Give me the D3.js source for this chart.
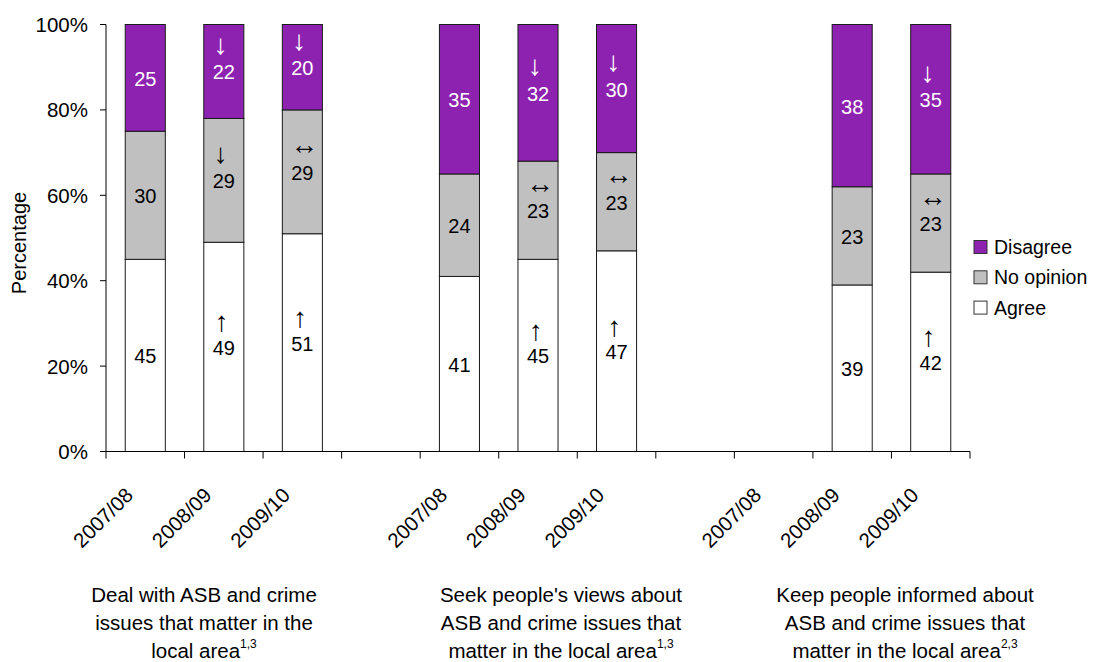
<!DOCTYPE html>
<html>
<head>
<meta charset="utf-8">
<script src="https://cdn.jsdelivr.net/npm/d3@7"></script>
<style>
  html, body { margin: 0; padding: 0; background: #ffffff; }
  svg { display: block; font-family: "Liberation Sans", Arial, sans-serif; }
</style>
</head>
<body>
<svg id="chart" width="1098" height="662"></svg>
<script>
// ---- Data -------------------------------------------------------------
const years = ["2007/08", "2008/09", "2009/10"];
const groupNames = ["deal", "seek", "inform"];

// One entry per year within each group (null = not asked that year)
const agree     = [45, 49, 51,   41, 45, 47,   null, 39, 42];
const noOpinion = [30, 29, 29,   24, 23, 23,   null, 23, 23];
const disagree  = [25, 22, 20,   35, 32, 30,   null, 38, 35];

// Change markers shown above each value
const agreeChange     = ["", "↑", "↑",   "", "↑", "↑",   "", "", "↑"];
const noOpinionChange = ["", "↓", "↔",   "", "↔", "↔",   "", "", "↔"];
const disagreeChange  = ["", "↓", "↓",   "", "↓", "↓",   "", "", "↓"];

const seriesNames = ["Agree", "No opinion", "Disagree"];
const yTicks = [0, 20, 40, 60, 80, 100];

// Group captions: lines of text plus a footnote marker on the last line
const groupCaptions = [
  ["Deal with ASB and crime", "issues that matter in the", "local area"],
  ["Seek people's views about", "ASB and crime issues that", "matter in the local area"],
  ["Keep people informed about", "ASB and crime issues that", "matter in the local area"]
];
const groupFootnotes = ["1,3", "1,3", "2,3"];

// ---- Layout -----------------------------------------------------------
const W = 1098, H = 662;
const plot = { left: 106, right: 970, top: 24.5, bottom: 451.5 };
const colors = { "Agree": "#ffffff", "No opinion": "#c0c0c0", "Disagree": "#8e22b0" };
const labelColors = { "Agree": "#000", "No opinion": "#000", "Disagree": "#fff" };
const font = "'Liberation Sans', Arial, sans-serif";
const arrowShift = { "↓": { dx: -3, dy: -27 }, "↑": { dx: -2, dy: -25 }, "↔": { dx: 2, dy: -27 } };
const captionX = [204, 561, 905];

const svg = d3.select("#chart");
svg.append("rect").attr("width", W).attr("height", H).attr("fill", "#fff");

// Slots: three years per group, with an empty spacer slot between groups
const slots = [];
groupNames.forEach((g, gi) => {
  years.forEach((y, yi) => slots.push({ key: g + "|" + y, year: y, idx: gi * 3 + yi }));
  if (gi < groupNames.length - 1) slots.push({ key: g + "|gap", year: "", idx: -1 });
});

const x = d3.scaleBand()
  .domain(slots.map(s => s.key))
  .range([plot.left, plot.right])
  .paddingInner(0.49)
  .paddingOuter(0.245);

const y = d3.scaleLinear().domain([0, 100]).range([plot.bottom, plot.top]);

// Stacked records per bar
const records = slots.filter(s => s.idx >= 0 && agree[s.idx] != null).map(s => ({
  key: s.key,
  "Agree": agree[s.idx],
  "No opinion": noOpinion[s.idx],
  "Disagree": disagree[s.idx],
  changes: {
    "Agree": agreeChange[s.idx],
    "No opinion": noOpinionChange[s.idx],
    "Disagree": disagreeChange[s.idx]
  }
}));

const stack = d3.stack().keys(seriesNames)(records);

const layers = svg.append("g").selectAll("g")
  .data(stack)
  .join("g")
  .attr("fill", d => colors[d.key]);

layers.selectAll("rect")
  .data(d => d.map(p => ({ p, series: d.key })))
  .join("rect")
  .attr("x", d => x(d.p.data.key))
  .attr("width", x.bandwidth())
  .attr("y", d => y(d.p[1]))
  .attr("height", d => y(d.p[0]) - y(d.p[1]))
  .attr("stroke", "#1a1a1a")
  .attr("stroke-width", 1);

// Value labels with change markers
const labels = svg.append("g");
stack.forEach(layer => {
  layer.forEach(p => {
    const cx = x(p.data.key) + x.bandwidth() / 2;
    const cy = (y(p[0]) + y(p[1])) / 2;
    const val = p.data[layer.key];
    labels.append("text")
      .attr("x", cx).attr("y", cy + 1)
      .attr("text-anchor", "middle")
      .attr("dominant-baseline", "central")
      .attr("font-family", font)
      .attr("font-size", 20)
      .attr("fill", labelColors[layer.key])
      .text(val);
    const mark = p.data.changes[layer.key];
    if (mark) {
      const s = arrowShift[mark];
      labels.append("text")
        .attr("x", cx + s.dx).attr("y", cy + s.dy)
        .attr("text-anchor", "middle")
        .attr("dominant-baseline", "central")
        .attr("font-family", font)
        .attr("font-size", 28)
        .attr("fill", labelColors[layer.key])
        .text(mark);
    }
  });
});

// Y axis
const yAxis = svg.append("g");
yAxis.append("line")
  .attr("x1", plot.left).attr("x2", plot.left)
  .attr("y1", y(100)).attr("y2", y(0))
  .attr("stroke", "#000");
yAxis.selectAll("line.tick").data(yTicks).join("line")
  .attr("class", "tick")
  .attr("x1", plot.left - 6).attr("x2", plot.left)
  .attr("y1", d => y(d)).attr("y2", d => y(d))
  .attr("stroke", "#000");
yAxis.selectAll("text").data(yTicks).join("text")
  .attr("x", plot.left - 18).attr("y", d => y(d))
  .attr("text-anchor", "end")
  .attr("dominant-baseline", "central")
  .attr("font-family", font).attr("font-size", 20.5)
  .attr("fill", "#000")
  .text(d => d + "%");

svg.append("text")
  .attr("transform", `translate(19,${(plot.top + plot.bottom) / 2 + 5}) rotate(-90)`)
  .attr("text-anchor", "middle")
  .attr("dominant-baseline", "central")
  .attr("font-family", font).attr("font-size", 20)
  .text("Percentage");

// X axis: line, boundary ticks and rotated year labels
const xAxis = svg.append("g");
xAxis.append("line")
  .attr("x1", plot.left).attr("x2", plot.right)
  .attr("y1", y(0)).attr("y2", y(0))
  .attr("stroke", "#000");
const boundaries = d3.range(slots.length + 1).map(i => plot.left + i * x.step());
xAxis.selectAll("line.tick").data(boundaries).join("line")
  .attr("class", "tick")
  .attr("x1", d => d).attr("x2", d => d)
  .attr("y1", y(0)).attr("y2", y(0) + 7)
  .attr("stroke", "#000");
xAxis.selectAll("text").data(slots.filter(s => s.year)).join("text")
  .attr("transform", d => `translate(${x(d.key) + x.bandwidth() / 2 - 11},${y(0) + 45}) rotate(-45)`)
  .attr("text-anchor", "end")
  .attr("font-family", font).attr("font-size", 20.5)
  .attr("fill", "#000")
  .text(d => d.year);

// Group captions
groupCaptions.forEach((lines, gi) => {
  lines.forEach((line, li) => {
    const t = svg.append("text")
      .attr("x", captionX[gi]).attr("y", 602 + li * 28)
      .attr("text-anchor", "middle")
      .attr("font-family", font).attr("font-size", 20.5)
      .attr("fill", "#000");
    t.append("tspan").text(line);
    if (li === lines.length - 1) {
      t.append("tspan").attr("dy", -10).attr("font-size", 12).text(groupFootnotes[gi]);
    }
  });
});

// Legend
const legendItems = ["Disagree", "No opinion", "Agree"];
const legend = svg.append("g");
legendItems.forEach((name, i) => {
  const cy = 247 + i * 30.3;
  legend.append("rect")
    .attr("x", 974).attr("y", cy - 6.5)
    .attr("width", 13).attr("height", 13)
    .attr("fill", colors[name])
    .attr("stroke", "#333").attr("stroke-width", 1);
  legend.append("text")
    .attr("x", 994).attr("y", cy)
    .attr("dominant-baseline", "central")
    .attr("font-family", font).attr("font-size", 19.5)
    .attr("fill", "#000")
    .text(name);
});
</script>
</body>
</html>
